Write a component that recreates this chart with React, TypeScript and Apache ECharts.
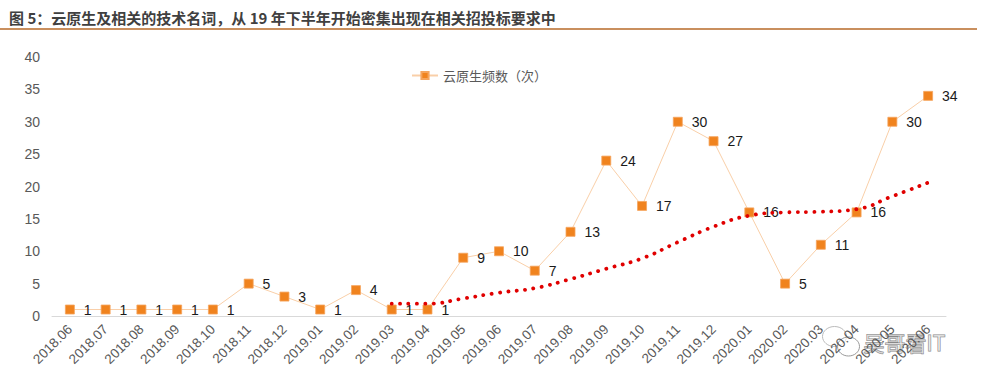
import React, { useEffect, useRef } from "react";
import * as echarts from "echarts";

const categories = [
  "2018.06", "2018.07", "2018.08", "2018.09", "2018.10", "2018.11", "2018.12",
  "2019.01", "2019.02", "2019.03", "2019.04", "2019.05", "2019.06", "2019.07",
  "2019.08", "2019.09", "2019.10", "2019.11", "2019.12", "2020.01", "2020.02",
  "2020.03", "2020.04", "2020.05", "2020.06",
];

const frequency = [1, 1, 1, 1, 1, 5, 3, 1, 4, 1, 1, 9, 10, 7, 13, 24, 17, 30, 27, 16, 5, 11, 16, 30, 34];

// trend line (starts at 2019.03)
const trend = [
  null, null, null, null, null, null, null, null, null,
  1.9, 1.9, 2.7, 3.6, 4.3, 5.7, 7.3, 8.9, 11.4, 13.8, 15.5, 16.0, 16.1, 16.5, 18.5, 20.6,
];

const yTicks = { min: 0, max: 40, interval: 5 };

const titleText = "图 5：云原生及相关的技术名词，从 19 年下半年开始密集出现在相关招投标要求中";
const seriesName = "云原生频数（次）";

const FONT = '"Liberation Sans", Arial, "Noto Sans CJK SC", sans-serif';

export default function App() {
  const ref = useRef<HTMLDivElement>(null);

  useEffect(() => {
    if (!ref.current) return;
    const chart = echarts.init(ref.current, null, { renderer: "svg" });
    chart.setOption({
      animation: false,
      backgroundColor: "#ffffff",
      textStyle: { fontFamily: FONT },
      title: {
        text: titleText,
        left: 4,
        top: 5,
        textStyle: {
          fontSize: 15,
          fontWeight: "bold",
          color: "#404040",
          fontFamily: '"Noto Sans CJK SC", sans-serif',
        },
      },
      graphic: [
        {
          type: "line",
          shape: { x1: 0, y1: 29, x2: 977, y2: 29 },
          style: { stroke: "#C98F5E", lineWidth: 2 },
        },
        {
          type: "group",
          left: 822,
          top: 326,
          children: [
            {
              type: "ellipse",
              shape: { cx: 13, cy: 11, rx: 12, ry: 10 },
              style: { fill: "rgba(255,255,255,0.6)", stroke: "#bbbbbb", lineWidth: 1 },
            },
            {
              type: "ellipse",
              shape: { cx: 27, cy: 21, rx: 11, ry: 9.5 },
              style: { fill: "rgba(255,255,255,0.6)", stroke: "#999999", lineWidth: 1 },
            },
            {
              type: "text",
              x: 42,
              y: 6,
              style: {
                text: "吴哥看IT",
                fontSize: 21,
                fontFamily: '"Noto Sans CJK SC", sans-serif',
                fill: "rgba(255,255,255,0.5)",
                stroke: "#888888",
                lineWidth: 1,
              },
            },
          ],
        },
      ],
      legend: {
        data: [seriesName],
        left: 406,
        top: 64,
        itemWidth: 26,
        itemHeight: 9,
        itemGap: 10,
        textStyle: { color: "#595959", fontSize: 13, fontFamily: '"Noto Sans CJK SC", sans-serif' },
      },
      grid: { left: 52, right: 44, top: 57, bottom: 75, containLabel: false },
      xAxis: {
        type: "category",
        data: categories,
        boundaryGap: true,
        axisLine: { lineStyle: { color: "#d9d9d9", width: 1 } },
        axisTick: { show: false },
        axisLabel: {
          interval: 0,
          rotate: 45,
          color: "#595959",
          fontSize: 13.5,
          margin: 11,
          fontFamily: FONT,
        },
      },
      yAxis: {
        type: "value",
        min: yTicks.min,
        max: yTicks.max,
        interval: yTicks.interval,
        axisLine: { show: false },
        axisTick: { show: false },
        splitLine: { show: false },
        axisLabel: { color: "#595959", fontSize: 14, margin: 12, fontFamily: FONT },
      },
      series: [
        {
          name: seriesName,
          type: "line",
          data: frequency,
          symbol: "rect",
          symbolSize: 9,
          itemStyle: { color: "#F0831E", borderColor: "#F5A55E", borderWidth: 0.8 },
          lineStyle: { color: "#F9CFA8", width: 1 },
          label: {
            show: true,
            position: "right",
            distance: 9,
            color: "#1a1a1a",
            fontSize: 14,
            fontFamily: FONT,
          },
          z: 3,
        },
        {
          name: "trend",
          type: "line",
          data: trend,
          smooth: true,
          symbol: "none",
          connectNulls: false,
          lineStyle: { color: "#E00000", width: 3.8, type: [0.1, 8.3], cap: "round" },
          z: 4,
          silent: true,
        },
      ],
    });
    return () => chart.dispose();
  }, []);

  return (
    <div
      ref={ref}
      style={{ position: "absolute", left: 0, top: 0, width: 990, height: 391 }}
    />
  );
}
